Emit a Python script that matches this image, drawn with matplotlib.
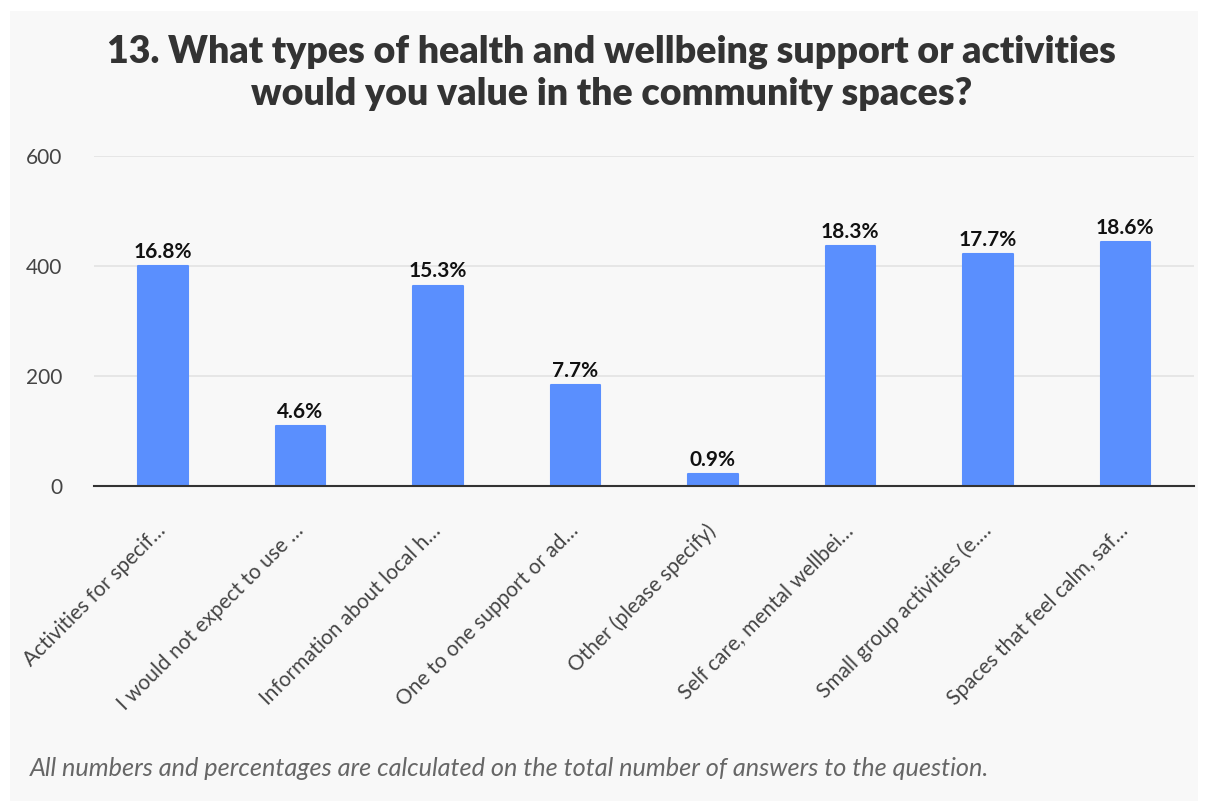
import matplotlib
matplotlib.use("Agg")
import matplotlib.pyplot as plt
from matplotlib.patches import Rectangle

categories = [
    "Activities for specif…",
    "I would not expect to use …",
    "Information about local h…",
    "One to one support or ad…",
    "Other (please specify)",
    "Self care, mental wellbei…",
    "Small group activities (e.…",
    "Spaces that feel calm, saf…",
]
counts = [400, 109, 364, 183, 21, 436, 421, 443]
y_ticks = [0, 200, 400, 600]

title = "13. What types of health and wellbeing support or activities\nwould you value in the community spaces?"
footnote = "All numbers and percentages are calculated on the total number of answers to the question."

BAR = "#5a8ffe"
FONT = ["Lato", "DejaVu Sans"]

plt.rcParams["font.family"] = FONT

fig = plt.figure(figsize=(12.06, 8.05), dpi=100)
fig.patch.set_facecolor("white")
fig.patches.append(Rectangle((10 / 1206, 4 / 805), 1188 / 1206, 790 / 805,
                             transform=fig.transFigure, facecolor="#f8f8f8",
                             edgecolor="none", zorder=-10))

ax = fig.add_axes([94 / 1206, (805 - 486) / 805, 1100 / 1206, 330 / 805])
ax.set_facecolor("none")

total = sum(counts)
x = range(len(categories))
ax.bar(x, counts, width=0.36, color=BAR, edgecolor=BAR, linewidth=1.5,
       joinstyle="round", zorder=3)
for xi, c in zip(x, counts):
    ax.text(xi, c + 8, f"{c / total * 100:.1f}%", ha="center", va="bottom",
            fontsize=15, fontweight="bold", color="#111111", zorder=4)

ax.set_xlim(-0.5, len(categories) - 0.5)
ax.set_ylim(0, 600)
ax.set_yticks(y_ticks)
ax.set_yticklabels([str(t) for t in y_ticks], fontsize=15, color="#444444")
ax.yaxis.grid(True, color="#e3e3e3", linewidth=1.2, zorder=0)
ax.set_axisbelow(True)
ax.tick_params(axis="y", length=0, pad=23)
ax.tick_params(axis="x", length=0, pad=30)
ax.set_xticks(list(x))
ax.set_xticklabels(categories, rotation=45, ha="right", va="center",
                   rotation_mode="anchor", fontsize=15, color="#444444")
for s in ["top", "right", "left"]:
    ax.spines[s].set_visible(False)
ax.spines["bottom"].set_color("#333333")
ax.spines["bottom"].set_linewidth(1.5)
ax.spines["bottom"].set_zorder(5)

fig.text(0.507, 1 - 73 / 805, title, ha="center", va="center", fontsize=27,
         fontweight="heavy", color="#333333", linespacing=1.3)
fig.text(30 / 1206, 1 - 768 / 805, footnote, ha="left", va="center",
         fontsize=18.2, style="italic", color="#666666")

fig.savefig("out.png", dpi=100, facecolor=fig.get_facecolor())
